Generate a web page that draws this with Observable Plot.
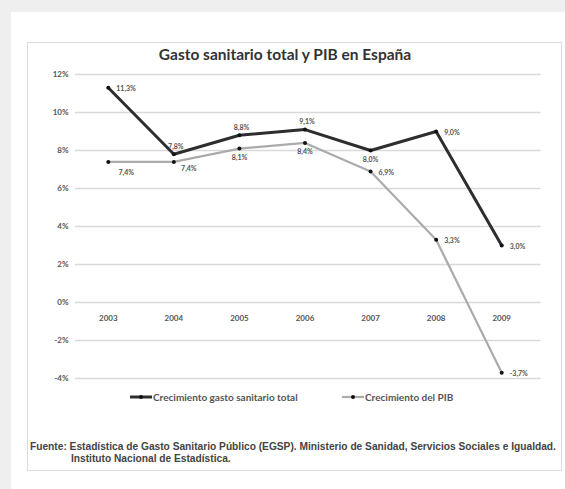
<!DOCTYPE html>
<html>
<head>
<meta charset="utf-8">
<script src="https://cdn.jsdelivr.net/npm/d3@7"></script>
<script src="https://cdn.jsdelivr.net/npm/@observablehq/plot@0.6"></script>
<style>
  html, body { margin: 0; padding: 0; }
  body { width: 565px; height: 489px; background: #efefef; position: relative; overflow: hidden; font-family: Lato, "Open Sans", sans-serif; }
  #card { position: absolute; left: 11px; top: 12px; right: 0; bottom: 0; background: #fff; }
  #frame { position: absolute; left: 27px; top: 42px; width: 535px; height: 429px; border: 1px solid #dcdcdc; box-sizing: border-box; }
  #title { position: absolute; left: 0; width: 570px; top: 45px; text-align: center; font-weight: bold; font-size: 15.5px; color: #333; }
  #chart { position: absolute; left: 0; top: 0; }
  #legend { position: absolute; top: 391px; left: 0; width: 565px; height: 12px; font-size: 10px; font-weight: bold; color: #555; }
  #legend .item { position: absolute; top: 0; display: flex; align-items: center; white-space: nowrap; }
  #source { position: absolute; left: 30px; top: 441px; font-family: "Liberation Sans", Arial, sans-serif; font-size: 10.2px; font-weight: bold; color: #444; line-height: 12px; white-space: nowrap; }
</style>
</head>
<body>
<div id="card"></div>
<div id="frame"></div>
<div id="title">Gasto sanitario total y PIB en España</div>
<div id="chart"></div>
<div id="legend"></div>
<div id="source">Fuente: Estadística de Gasto Sanitario Público (EGSP). Ministerio de Sanidad, Servicios Sociales e Igualdad.<br><span style="padding-left:41px">Instituto Nacional de Estadística.</span></div>
<script>
const years = [2003, 2004, 2005, 2006, 2007, 2008, 2009];
const gastoValues = [11.3, 7.8, 8.8, 9.1, 8.0, 9.0, 3.0];
const pibValues = [7.4, 7.4, 8.1, 8.4, 6.9, 3.3, -3.7];
const yTicks = [-4, -2, 0, 2, 4, 6, 8, 10, 12];
const seriesNames = ["Crecimiento gasto sanitario total", "Crecimiento del PIB"];
const gastoPlacement = ["right", "above", "above", "above", "below", "right", "right"];
const pibPlacement = ["belowRight", "belowRight2", "below", "below", "right", "right", "right"];

const gastoColor = "#2e2e2e";
const pibColor = "#ababab";

const rows = [];
years.forEach((y, i) => rows.push({year: y, value: gastoValues[i], series: seriesNames[0], place: gastoPlacement[i]}));
years.forEach((y, i) => rows.push({year: y, value: pibValues[i], series: seriesNames[1], place: pibPlacement[i]}));

const fmt = v => v.toFixed(1).replace(".", ",") + "%";
const labelStyle = {fontSize: 7, fontWeight: "bold", fill: "#555", fontFamily: "Lato, sans-serif"};
const axisStyle = {fontSize: 8, fontWeight: "bold", fill: "#555", fontFamily: "Lato, sans-serif"};
const lab = (place, opts) => Plot.text(rows.filter(d => d.place === place), {x: "year", y: "value", text: d => fmt(d.value), ...labelStyle, ...opts});

const chart = Plot.plot({
  width: 565,
  height: 489,
  marginLeft: 75,
  marginRight: 31,
  marginTop: 74,
  marginBottom: 111,
  style: {background: "transparent", fontFamily: "Lato, sans-serif"},
  x: {domain: [2002.5, 2009.5], axis: null},
  y: {domain: [-4, 12], axis: null},
  marks: [
    Plot.ruleY(yTicks, {stroke: "#d9d9d9", strokeWidth: 1.5, x1: 2002.5, x2: 2009.6}),
    Plot.text(yTicks, {frameAnchor: "left", y: d => d, text: d => d + "%", textAnchor: "end", dx: -7, ...axisStyle}),
    Plot.text(years, {x: d => d, y: 0, dy: 16, text: d => String(d), ...axisStyle}),
    Plot.line(rows.filter(d => d.series === seriesNames[1]), {x: "year", y: "value", stroke: pibColor, strokeWidth: 2.2}),
    Plot.dot(rows.filter(d => d.series === seriesNames[1]), {x: "year", y: "value", r: 2, fill: "#111"}),
    Plot.line(rows.filter(d => d.series === seriesNames[0]), {x: "year", y: "value", stroke: gastoColor, strokeWidth: 3}),
    Plot.dot(rows.filter(d => d.series === seriesNames[0]), {x: "year", y: "value", r: 2, fill: "#111"}),
    lab("right", {textAnchor: "start", dx: 8, dy: 1}),
    lab("above", {dy: -8, dx: 2}),
    lab("below", {dy: 9}),
    lab("belowRight", {dx: 18, dy: 11}),
    lab("belowRight2", {dx: 15, dy: 7})
  ]
});
document.getElementById("chart").appendChild(chart);

// legend
const legend = document.getElementById("legend");
const swatches = [
  `<svg width="22" height="8"><line x1="0" y1="4" x2="22" y2="4" stroke="${gastoColor}" stroke-width="3"/><circle cx="11" cy="4" r="2" fill="#111"/></svg>`,
  `<svg width="22" height="8"><line x1="0" y1="4" x2="22" y2="4" stroke="${pibColor}" stroke-width="2.2"/><circle cx="11" cy="4" r="2" fill="#111"/></svg>`
];
const legendLeft = [130, 342];
seriesNames.forEach((name, i) => {
  const item = document.createElement("div");
  item.className = "item";
  item.style.left = legendLeft[i] + "px";
  item.innerHTML = swatches[i] + `<span style="margin-left:1px">${name}</span>`;
  legend.appendChild(item);
});
</script>
</body>
</html>
